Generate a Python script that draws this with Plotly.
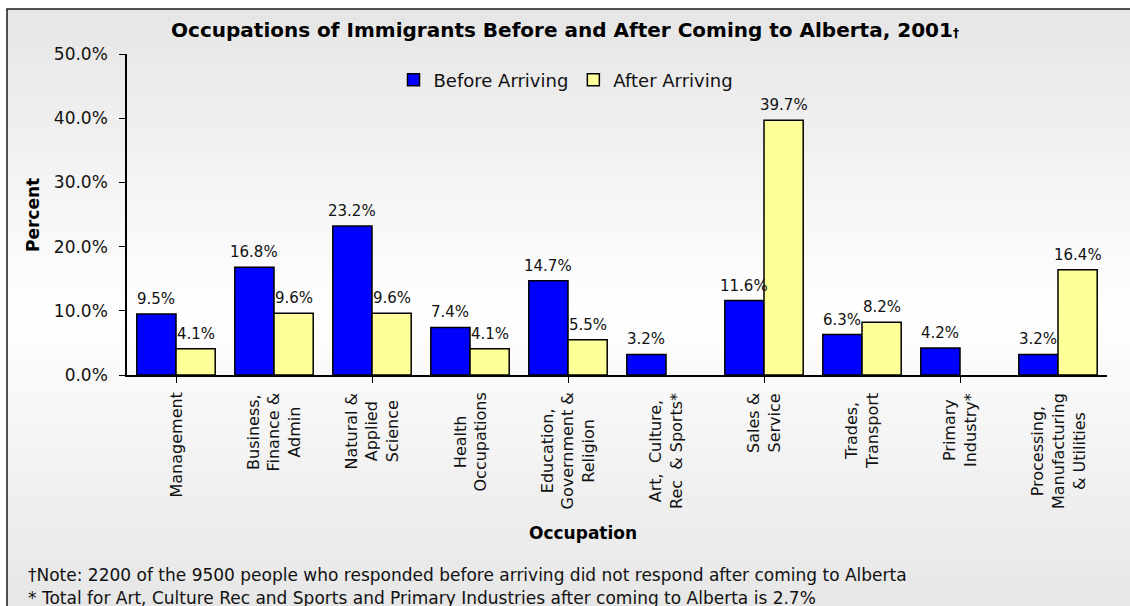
import base64
import struct
import zlib

import plotly.graph_objects as go

# ---- data ----
categories = [
    "Management",
    "Business,<br>Finance &<br>Admin",
    "Natural &<br>Applied<br>Science",
    "Health<br>Occupations",
    "Education,<br>Government &<br>Religion",
    "Art,  Culture,<br>Rec  & Sports*",
    "Sales &<br>Service",
    "Trades,<br>Transport",
    "Primary<br>Industry*",
    "Processing,<br>Manufacturing<br>& Utilities",
]
before_arriving = [9.5, 16.8, 23.2, 7.4, 14.7, 3.2, 11.6, 6.3, 4.2, 3.2]
after_arriving = [4.1, 9.6, 9.6, 4.1, 5.5, None, 39.7, 8.2, None, 16.4]
y_ticks = [0, 10, 20, 30, 40, 50]
y_tick_labels = ["0.0%", "10.0%", "20.0%", "30.0%", "40.0%", "50.0%"]

title_text = ("Occupations of Immigrants Before and After Coming to Alberta, 2001"
              "<span style='font-size:12px'>\u2020</span>")
note_lines = [
    "\u2020Note: 2200 of the 9500 people who responded before arriving did not respond after coming to Alberta",
    "* Total for Art, Culture Rec and Sports and Primary Industries after coming to Alberta is 2.7%",
]

# ---- geometry (pixels) ----
W, H = 1130, 606
L, R, T, B = 127, 23, 54, 231
PW, PH = W - L - R, H - T - B
BAR_GAP = 0.2
BAR_HALF = (1 - BAR_GAP) / 4   # offset of each bar centre in a group of two


def px_x(x):
    return (x - L) / PW


def px_y(y):
    return (H - B - y) / PH


FONT = "DejaVu Sans"


def gradient_png(stops, height=128):
    """Vertical grey-white-grey gradient as a 2-px-wide PNG data URI."""
    rows = []
    for i in range(height):
        t = i / (height - 1)
        for (t0, c0), (t1, c1) in zip(stops[:-1], stops[1:]):
            if t0 <= t <= t1:
                f = (t - t0) / (t1 - t0) if t1 > t0 else 0
                v = round(c0 + (c1 - c0) * f)
                break
        rows.append(b"\x00" + bytes([v, v, v]) * 2)
    raw = b"".join(rows)

    def chunk(tag, data):
        c = struct.pack(">I", len(data)) + tag + data
        return c + struct.pack(">I", zlib.crc32(tag + data) & 0xFFFFFFFF)

    png = (b"\x89PNG\r\n\x1a\n"
           + chunk(b"IHDR", struct.pack(">IIBBBBB", 2, height, 8, 2, 0, 0, 0))
           + chunk(b"IDAT", zlib.compress(raw, 9))
           + chunk(b"IEND", b""))
    return "data:image/png;base64," + base64.b64encode(png).decode()


fig = go.Figure()

series = [
    ("Before Arriving", before_arriving, "#0000ff", -BAR_HALF),
    ("After Arriving", after_arriving, "#ffff99", BAR_HALF),
]
for name, values, color, _ in series:
    fig.add_trace(go.Bar(
        name=name,
        x=list(range(len(categories))),
        y=values,
        marker=dict(color=color, line=dict(color="#000000", width=1.5)),
        hovertemplate="%{y:.1f}%<extra>" + name + "</extra>",
    ))

annotations = []
# value labels above each bar
for name, values, color, offset in series:
    for i, v in enumerate(values):
        if v is None:
            continue
        annotations.append(dict(
            x=i + offset, xref="x", y=v, yref="y",
            text=f"{v:.1f}%", showarrow=False,
            xanchor="center", yanchor="bottom", yshift=4,
            font=dict(family=FONT, size=15, color="#111111"),
        ))
# category labels, rotated and centred line by line
for i, cat in enumerate(categories):
    annotations.append(dict(
        x=i, xref="x", y=px_y(391), yref="paper",
        text=cat, textangle=-90, showarrow=False,
        xanchor="center", yanchor="top", align="center",
        font=dict(family=FONT, size=16, color="#111111"),
    ))
# axis titles
annotations.append(dict(
    x=px_x(33), y=px_y(215), xref="paper", yref="paper",
    text="<b>Percent</b>", textangle=-90, showarrow=False,
    xanchor="center", yanchor="middle",
    font=dict(family=FONT, size=17, color="#000000"),
))
annotations.append(dict(
    x=px_x(583), y=px_y(533), xref="paper", yref="paper",
    text="<b>Occupation</b>", showarrow=False,
    xanchor="center", yanchor="middle",
    font=dict(family=FONT, size=17, color="#000000"),
))
# footnotes
for k, line in enumerate(note_lines):
    annotations.append(dict(
        x=px_x(26), y=px_y(575 + 23 * k), xref="paper", yref="paper",
        text=line, showarrow=False, xanchor="left", yanchor="middle",
        font=dict(family=FONT, size=17, color="#111111"),
    ))

fig.update_layout(
    width=W, height=H,
    margin=dict(l=L, r=R, t=T, b=B, pad=0),
    paper_bgcolor="#ffffff",
    plot_bgcolor="rgba(0,0,0,0)",
    barmode="group", bargap=BAR_GAP, bargroupgap=0,
    title=dict(
        text="<b>" + title_text + "</b>",
        x=0.5, xref="container", xanchor="center",
        y=1 - 30 / H, yref="container", yanchor="middle",
        font=dict(family=FONT, size=20, color="#000000"),
    ),
    legend=dict(
        orientation="h", x=px_x(566), y=px_y(80),
        xanchor="center", yanchor="middle",
        bgcolor="rgba(0,0,0,0)", borderwidth=0,
        font=dict(family=FONT, size=18, color="#111111"),
        itemwidth=30, tracegroupgap=0,
    ),
    xaxis=dict(
        range=[-0.5, len(categories) - 0.5],
        showticklabels=False, showgrid=False, zeroline=False,
        showline=True, linecolor="#000000", linewidth=1.5,
        ticks="outside", ticklen=6, tickcolor="#000000", tickwidth=1.2,
        tickson="boundaries", fixedrange=True,
    ),
    yaxis=dict(
        range=[0, 50], tickmode="array",
        tickvals=y_ticks, ticktext=y_tick_labels,
        showgrid=False, zeroline=False,
        showline=True, linecolor="#000000", linewidth=1.5,
        ticks="outside", ticklen=6, tickcolor="#000000", tickwidth=1.2,
        ticklabelstandoff=8,
        tickfont=dict(family=FONT, size=17, color="#111111"),
        fixedrange=True,
    ),
    annotations=annotations,
    images=[dict(
        source=gradient_png([(0.0, 230), (0.48, 255), (1.0, 228)]),
        xref="paper", yref="paper",
        x=px_x(7), y=px_y(9), sizex=(1180 - 7) / PW, sizey=(640 - 9) / PH,
        xanchor="left", yanchor="top", sizing="stretch", layer="below",
    )],
    shapes=[dict(
        type="rect", xref="paper", yref="paper",
        x0=px_x(7), x1=px_x(1180), y0=px_y(9), y1=px_y(640),
        line=dict(color="#1a1a1a", width=1.5), fillcolor="rgba(0,0,0,0)",
        layer="above",
    )],
)

fig.write_html("out.html", config={"displayModeBar": False})
